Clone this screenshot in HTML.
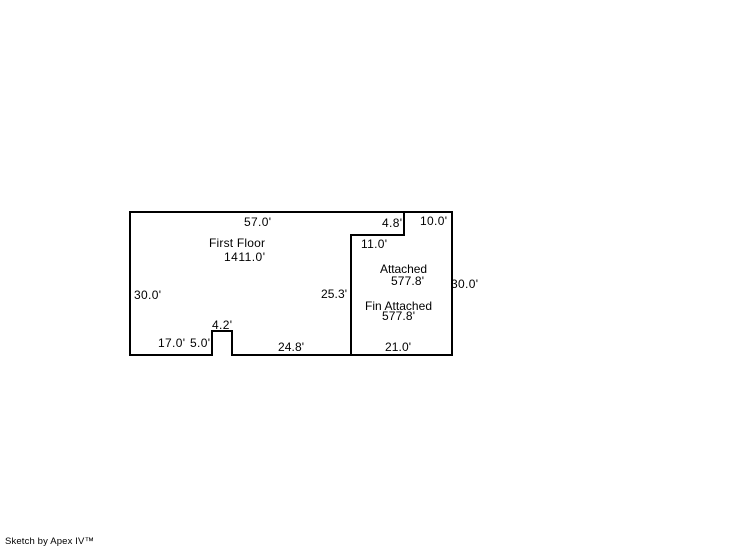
<!DOCTYPE html>
<html>
<head>
<meta charset="utf-8">
<style>
html,body{margin:0;padding:0;background:#fff;}
svg{display:block;}
text{font-family:"Liberation Sans",Arial,sans-serif;font-size:12px;fill:#000;}
</style>
</head>
<body>
<svg width="746" height="547" viewBox="0 0 746 547" xmlns="http://www.w3.org/2000/svg">
<rect width="746" height="547" fill="#fff"/>
<g fill="none" stroke="#000" stroke-width="2" stroke-linecap="square" shape-rendering="crispEdges">
<path d="M130 212H452V355H232V331H212V355H130Z"/>
<path d="M404 212V235H351V355"/>
</g>
<text x="244" y="226" textLength="27">57.0'</text>
<text x="209" y="247" textLength="56">First Floor</text>
<text x="224" y="261" textLength="41">1411.0'</text>
<text x="134" y="299" textLength="27">30.0'</text>
<text x="212" y="329" textLength="20">4.2'</text>
<text x="158" y="347" textLength="27">17.0'</text>
<text x="190" y="347" textLength="20">5.0'</text>
<text x="278" y="351" textLength="26">24.8'</text>
<text x="382" y="227" textLength="20">4.8'</text>
<text x="420" y="225" textLength="27">10.0'</text>
<text x="361" y="248" textLength="26">11.0'</text>
<text x="380" y="273" textLength="47">Attached</text>
<text x="391" y="285" textLength="33">577.8'</text>
<text x="321" y="298" textLength="26">25.3'</text>
<text x="451" y="288" textLength="27">30.0'</text>
<text x="365" y="310" textLength="67">Fin Attached</text>
<text x="382" y="320" textLength="33">577.8'</text>
<text x="385" y="351" textLength="26">21.0'</text>
<text x="5" y="544" textLength="89" style="font-size:9.5px">Sketch by Apex IV™</text>
</svg>
</body>
</html>
